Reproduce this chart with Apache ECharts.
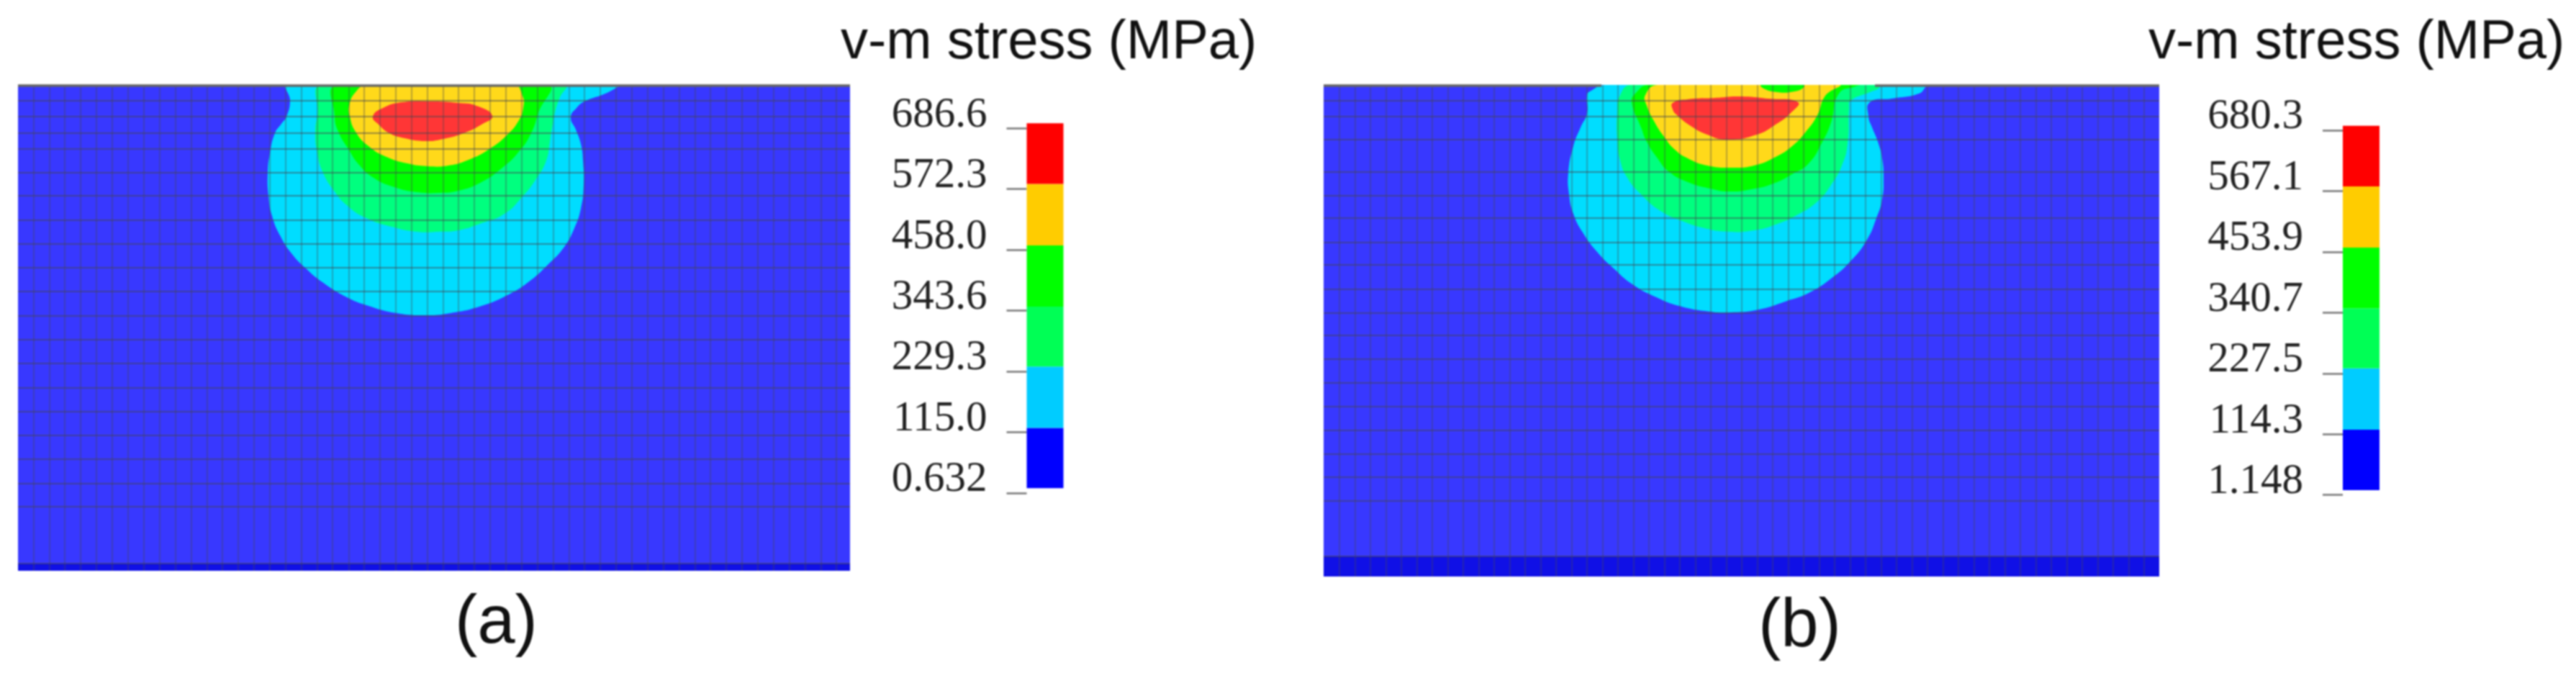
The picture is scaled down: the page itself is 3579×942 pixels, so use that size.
<!DOCTYPE html>
<html><head><meta charset="utf-8">
<style>html,body{margin:0;padding:0;background:#fff}#c{width:3579px;height:942px}#c canvas{filter:blur(0.8px)}</style>
<script src="https://cdn.jsdelivr.net/npm/echarts@6/dist/echarts.min.js"></script>
</head><body><div id="c"></div>
<script>
// Panel (a) stress contours, in panel units: [across, depth]
const a_cyan=[[375,0],[378,22],[373,44],[366,54],[357,67],[350,95],[347,122],[348,154],[353,182],[364,209],[380,234],[400,255],[423,274],[455,294],[487,307],[526,317],[566,320],[601,317],[644,307],[680,292],[709,274],[737,249],[759,225],[773,199],[782,172],[786,139],[785,105],[782,82],[775,62],[768,45],[776,32],[787,23],[816,12],[837,1],[840,0]];
const a_lgreen=[[423,0],[416,42],[413,67],[416,95],[423,120],[439,147],[459,169],[484,185],[519,197],[555,204],[584,204],[612,202],[644,192],[676,179],[701,155],[719,132],[734,105],[739,79],[741,65],[751,22],[764,1],[765,0]];
const a_green=[[444,0],[440,44],[446,67],[459,89],[473,110],[494,129],[523,142],[555,149],[584,150],[612,147],[644,135],[673,115],[694,95],[712,69],[723,39],[735,0]];
const a_yellow=[[485,0],[469,10],[460,29],[461,44],[469,65],[487,85],[512,100],[541,109],[569,113],[598,112],[626,104],[655,89],[680,69],[696,49],[702,32],[701,15],[689,0]];
const a_red=[[493,44],[507,32],[534,24],[576,23],[612,25],[637,29],[659,43],[644,55],[619,67],[591,75],[566,78],[537,74],[516,67],[501,55]];
const a_band=[[0,665],[1156,665],[1156,675],[0,675]];
// Panel (b) stress contours
const b_cyan=[[392,0],[370,9],[366,14],[366,39],[357,59],[347,85],[340,122],[341,152],[347,179],[360,205],[380,232],[403,255],[429,277],[460,294],[494,307],[537,315],[567,316],[605,312],[644,300],[674,289],[705,269],[732,245],[755,215],[768,185],[776,159],[778,129],[776,102],[770,79],[762,59],[757,44],[759,24],[789,19],[827,12],[837,2],[838,0]];
const b_lgreen=[[428,0],[412,14],[408,39],[408,75],[412,105],[422,129],[441,152],[468,175],[498,189],[529,199],[563,204],[598,202],[628,194],[659,180],[686,162],[705,139],[720,112],[728,82],[730,32],[732,22],[759,10],[772,4],[770,0]];
const b_green=[[452,0],[433,12],[428,24],[441,59],[449,79],[464,102],[479,120],[506,135],[537,144],[563,148],[594,145],[625,137],[651,124],[674,109],[693,79],[705,52],[716,12],[739,2],[745,0]];
const b_yellow=[[464,0],[447,14],[449,29],[460,52],[473,72],[487,89],[506,102],[533,112],[567,115],[598,112],[628,100],[651,85],[670,65],[686,42],[697,15],[716,0]];
const b_blob=[[608,0],[623,9],[659,8],[667,0]];
const b_red=[[485,25],[506,20],[544,18],[579,16],[617,19],[659,24],[649,39],[628,55],[602,69],[560,76],[533,69],[510,57],[491,42],[485,34]];
const b_band=[[0,655],[1161,655],[1161,683],[0,683]];
// Mesh lines
const a_meshX=[22,44,65,87,109,131,153,175,197,219,241,263,284,306,328,350,372,394,416,437,460,481,503,525,547,569,591,612,634,656,678,700,722,744,766,787,809,831,853,875,897,919,941,962,984,1006,1028,1050,1072,1094,1116,1137];
const a_meshY=[22,44,67,89,122,154,188,221,254,287,321,354,387,421,454,487,520,554,586,665];
const b_meshX=[22,44,65,87,108,130,151,173,194,216,237,259,280,302,323,345,366,388,409,431,452,474,495,517,538,560,581,603,624,646,667,689,710,732,753,775,796,818,839,861,882,904,925,947,968,990,1011,1033,1054,1076,1097,1119,1140];
const b_meshY=[22,44,76,121,154,185,219,250,284,317,348,381,414,447,480,513,545,578,655];
const a_topEdge=[[0,1156]];
const b_topEdge=[[0,386],[766,1161]];
// Colour-bar scales
const a_ticks=[0.632,115.0,229.3,343.6,458.0,572.3,686.6];
const a_tickLabels=['0.632','115.0','229.3','343.6','458.0','572.3','686.6'];
const a_bandEdges=[9.4,122.8,238.5,351.3,466.4,582.1,696.1];
const b_ticks=[1.148,114.3,227.5,340.7,453.9,567.1,680.3];
const b_tickLabels=['1.148','114.3','227.5','340.7','453.9','567.1','680.3'];
const b_bandEdges=[10.1,122.7,237,348.8,461.5,575.6,688.3];
const barColors=['#0000ff','#00ccff','#00ff55','#00ff00','#ffcc00','#ff0000'];
const contourColors={cyan:'#00ddff',lgreen:'#00ff7f',green:'#00ff00',yellow:'#ffd91a',red:'#ff3636',band:'#1010e6'};
const titleText='v-m stress (MPa)';

const chart=echarts.init(document.getElementById('c'),null,{renderer:'canvas',devicePixelRatio:1});

function contourSeries(idx,shapes){
  return {type:'custom',xAxisIndex:idx,yAxisIndex:idx,coordinateSystem:'cartesian2d',clip:true,z:2,silent:true,
    data:shapes.map((s,i)=>[i]),
    renderItem:(p,api)=>{const s=shapes[api.value(0)];
      return {type:'polygon',shape:{points:s.pts.map(q=>api.coord(q)),smooth:s.sharp?0:0.5},style:{fill:s.color}};}};
}
function meshSeries(idx,xs,ys,w,h,top){
  const segs=xs.map(x=>[[x,0],[x,h],1.8,'rgba(70,70,80,0.42)']).concat(ys.map(y=>[[0,y],[w,y],2,'rgba(70,70,80,0.55)']))
    .concat(top.map(t=>[[t[0],1],[t[1],1],3.5,'#666']));
  return {type:'custom',xAxisIndex:idx,yAxisIndex:idx,coordinateSystem:'cartesian2d',clip:false,z:3,silent:true,
    data:segs.map((s,i)=>[i]),
    renderItem:(p,api)=>{const s=segs[api.value(0)],a=api.coord(s[0]),b=api.coord(s[1]);
      return {type:'line',shape:{x1:a[0],y1:a[1],x2:b[0],y2:b[1]},style:{stroke:s[3],lineWidth:s[2]}};}};
}
function barSeries(idx,edges){
  return {type:'custom',xAxisIndex:idx,yAxisIndex:idx,coordinateSystem:'cartesian2d',clip:false,z:2,silent:true,
    data:barColors.map((c,i)=>[i]),
    renderItem:(p,api)=>{const i=api.value(0),t=api.coord([0,edges[i+1]]),b=api.coord([1,edges[i]]);
      return {type:'rect',shape:{x:t[0],y:t[1],width:b[0]-t[0],height:b[1]-t[1]},style:{fill:barColors[i]}};}};
}
function barAxis(idx,ticks,labels){
  return {gridIndex:idx,type:'value',min:ticks[0],max:ticks[6],position:'left',
    splitLine:{show:false},axisLine:{show:false},
    axisTick:{show:true,length:28,customValues:ticks,lineStyle:{color:'#777',width:2.5}},
    axisLabel:{show:true,margin:55,customValues:ticks,showMinLabel:true,showMaxLabel:true,hideOverlap:false,
      verticalAlign:'bottom',align:'right',fontFamily:'Liberation Serif',fontSize:59,color:'#222',lineHeight:36,
      formatter:v=>labels[ticks.indexOf(v)]}};
}
const hidden=(g,max,inv)=>({gridIndex:g,type:'value',min:0,max:max,show:false,inverse:!!inv});

const sa=[{pts:a_band,color:contourColors.band,sharp:1},{pts:a_cyan,color:contourColors.cyan},{pts:a_lgreen,color:contourColors.lgreen},{pts:a_green,color:contourColors.green},{pts:a_yellow,color:contourColors.yellow},{pts:a_red,color:contourColors.red}];
const sb=[{pts:b_band,color:contourColors.band,sharp:1},{pts:b_cyan,color:contourColors.cyan},{pts:b_lgreen,color:contourColors.lgreen},{pts:b_green,color:contourColors.green},{pts:b_yellow,color:contourColors.yellow},{pts:b_blob,color:contourColors.green},{pts:b_red,color:contourColors.red}];

const T={fontFamily:'Liberation Sans',fontSize:76,color:'#111',fontWeight:'normal'};
const S={fontFamily:'Liberation Sans',fontSize:94,color:'#111',fontWeight:'normal'};
chart.setOption({
  animation:false,backgroundColor:'#fff',
  title:[
    {text:titleText,left:1168,top:22,padding:0,textStyle:T},
    {text:titleText,left:2985,top:22,padding:0,textStyle:T},
    {text:'(a)',left:632,top:820,padding:0,textStyle:S},
    {text:'(b)',left:2443,top:825,padding:0,textStyle:S}
  ],
  grid:[
    {left:25,top:118,width:1156,height:675,show:true,backgroundColor:'#3838ff',borderWidth:0},
    {left:1839,top:118,width:1161,height:683,show:true,backgroundColor:'#3838ff',borderWidth:0},
    {left:1426.5,top:178.3,width:51,height:506.5},
    {left:3255,top:180.8,width:51,height:506.9}
  ],
  xAxis:[hidden(0,1156),hidden(1,1161),hidden(2,1),hidden(3,1)],
  yAxis:[hidden(0,675,true),hidden(1,683,true),barAxis(2,a_ticks,a_tickLabels),barAxis(3,b_ticks,b_tickLabels)],
  series:[
    contourSeries(0,sa),contourSeries(1,sb),
    meshSeries(0,a_meshX,a_meshY,1156,675,a_topEdge),
    meshSeries(1,b_meshX,b_meshY,1161,683,b_topEdge),
    barSeries(2,a_bandEdges),barSeries(3,b_bandEdges)
  ]
});
</script></body></html>
